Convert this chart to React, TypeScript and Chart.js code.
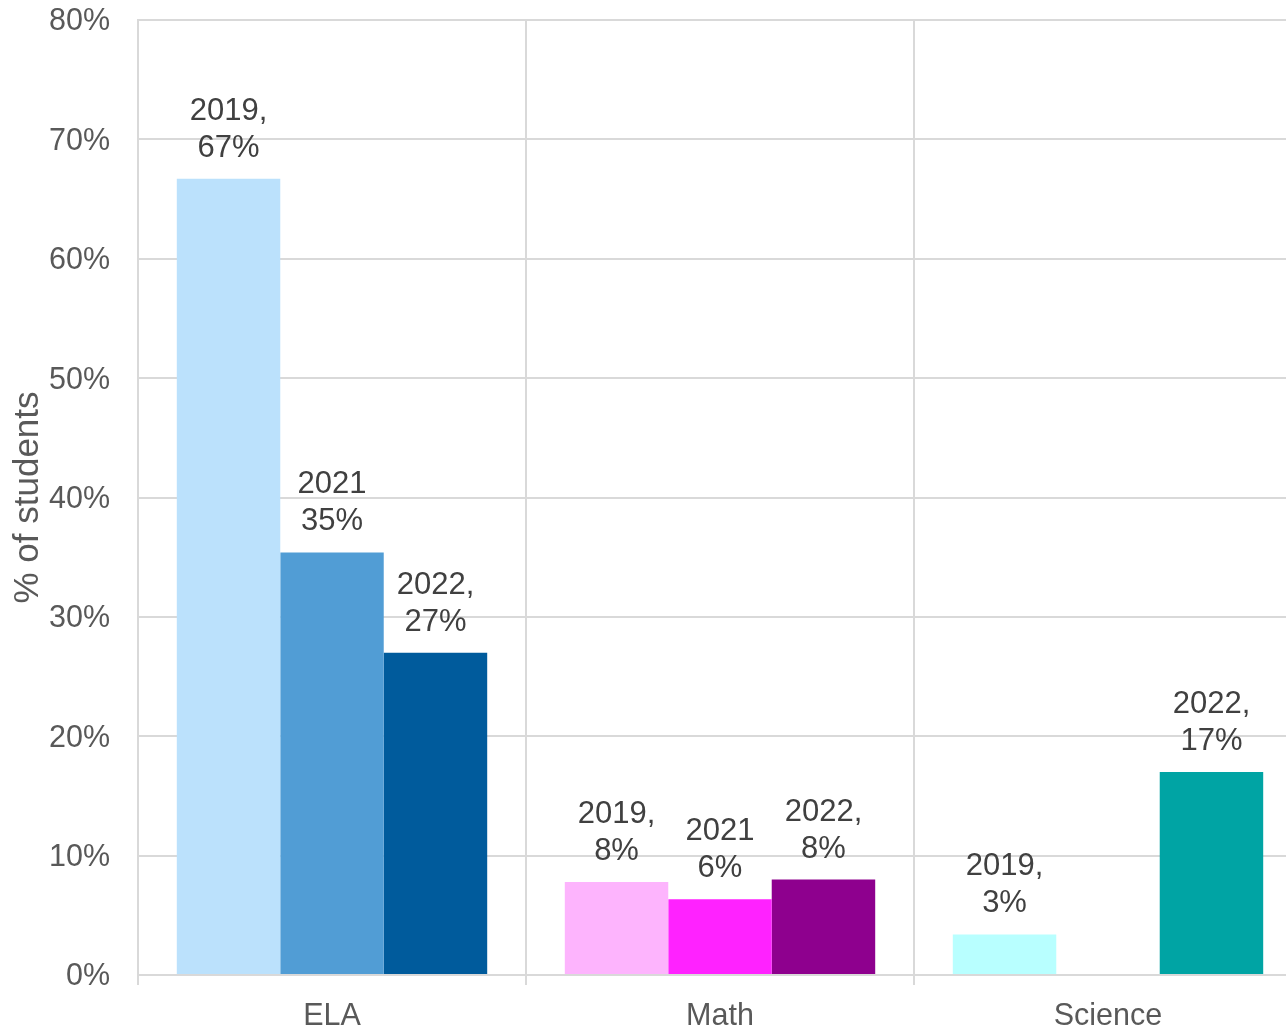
import React, { useEffect, useRef } from "react";
import { Chart, registerables } from "chart.js";

Chart.register(...registerables);

const categories = ["ELA", "Math", "Science"];
const seriesNames = ["2019", "2021", "2022"];
const values2019 = [66.7, 7.8, 3.4];
const values2021: (number | null)[] = [35.4, 6.35, null];
const values2022 = [27.0, 8.0, 17.0];
const colors2019 = ["#BBE1FC", "#FDB4FD", "#B8FFFF"];
const colors2021 = ["#519DD5", "#FF22FF", "#FFFFFF"];
const colors2022 = ["#005B9C", "#8E008E", "#00A4A4"];
const labels2019 = [["2019,", "67%"], ["2019,", "8%"], ["2019,", "3%"]];
const labels2021 = [["2021", "35%"], ["2021", "6%"], []];
const labels2022 = [["2022,", "27%"], ["2022,", "8%"], ["2022,", "17%"]];
const yTicks = [0, 10, 20, 30, 40, 50, 60, 70, 80];
const yTitle = "% of students";

const FONT = "'Liberation Sans', Arial, sans-serif";

const dataLabelPlugin = {
  id: "barLabels",
  afterDatasetsDraw(chart: any) {
    const ctx = chart.ctx;
    const allLabels = [labels2019, labels2021, labels2022];
    ctx.save();
    ctx.font = `31px ${FONT}`;
    ctx.fillStyle = "#404040";
    ctx.textAlign = "center";
    ctx.textBaseline = "alphabetic";
    chart.data.datasets.forEach((ds: any, di: number) => {
      const meta = chart.getDatasetMeta(di);
      meta.data.forEach((bar: any, i: number) => {
        const v = ds.data[i];
        if (v === null || v === undefined) return;
        const lines = allLabels[di][i];
        const n = lines.length;
        lines.forEach((line: string, li: number) => {
          const y = bar.y - 22 - (n - 1 - li) * 37;
          ctx.fillText(line, bar.x, y);
        });
      });
    });
    ctx.restore();
  },
};

export default function App() {
  const ref = useRef<HTMLCanvasElement | null>(null);
  useEffect(() => {
    if (!ref.current) return;
    const chart = new Chart(ref.current, {
      type: "bar",
      data: {
        labels: categories,
        datasets: [
          { label: seriesNames[0], data: values2019, backgroundColor: colors2019 },
          { label: seriesNames[1], data: values2021 as any, backgroundColor: colors2021 },
          { label: seriesNames[2], data: values2022, backgroundColor: colors2022 },
        ],
      },
      options: {
        animation: false,
        responsive: true,
        maintainAspectRatio: false,
        layout: { padding: { top: 20, left: 0, right: 0, bottom: 0 } },
        datasets: { bar: { categoryPercentage: 0.8, barPercentage: 1.0 } },
        plugins: { legend: { display: false }, tooltip: { enabled: false } },
        scales: {
          x: {
            grid: { offset: true, color: "#D9D9D9", lineWidth: 2, drawTicks: true, tickLength: 10 },
            border: { display: true, color: "#D9D9D9", width: 2 },
            ticks: { color: "#595959", font: { family: FONT, size: 30.5 }, padding: 13 },
            afterFit: (s: any) => { s.height = 53; },
          },
          y: {
            min: 0,
            max: 80,
            afterBuildTicks: (s: any) => { s.ticks = yTicks.map((v) => ({ value: v })); },
            grid: { color: "#D9D9D9", lineWidth: 2, drawTicks: false },
            border: { display: true, color: "#D9D9D9", width: 2 },
            ticks: {
              color: "#595959",
              font: { family: FONT, size: 30.5 },
              padding: 28,
              labelOffset: 2,
              callback: (v: any) => `${v}%`,
            },
            title: {
              display: true,
              text: yTitle,
              color: "#595959",
              font: { family: FONT, size: 35 },
              padding: { top: 7, bottom: 0 },
            },
            afterFit: (s: any) => { s.width = 138; s.paddingTop = 0; s.paddingBottom = 0; },
          },
        },
      },
      plugins: [dataLabelPlugin],
    });
    return () => chart.destroy();
  }, []);
  return (
    <div style={{ position: "fixed", left: 0, top: 0, width: 1286, height: 1028, overflow: "hidden", background: "#fff" }}>
      <div style={{ position: "absolute", left: 0, top: 0, width: 1302, height: 1028 }}>
        <canvas ref={ref} />
      </div>
    </div>
  );
}
